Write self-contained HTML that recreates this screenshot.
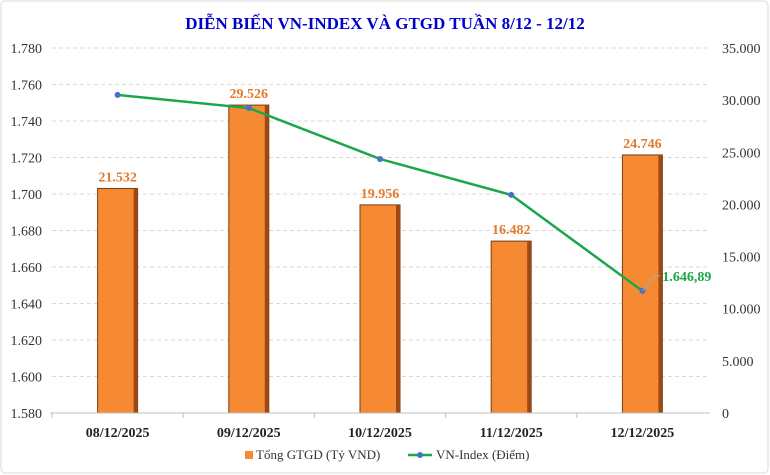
<!DOCTYPE html>
<html><head><meta charset="utf-8"><style>
body{margin:0;background:#fff;}
svg{display:block;font-family:"Liberation Serif",serif;}
</style></head><body>
<svg id="c" width="770" height="475">
<rect x="1" y="1" width="767" height="472" rx="4" fill="#fff" stroke="#d9d9d9"/>
<text x="385" y="29" text-anchor="middle" font-size="17" font-weight="bold" fill="#0000cc">DIỄN BIẾN VN-INDEX VÀ GTGD TUẦN 8/12 - 12/12</text>
<g id="grid"></g><g id="bars"></g><g id="line"></g><g id="axes"></g>
<g>
<rect x="245" y="451" width="8" height="8" fill="#f58a33"/>
<text x="256" y="459" font-size="13" fill="#333">Tổng GTGD (Tỷ VND)</text>
<line x1="408" y1="455" x2="432" y2="455" stroke="#1aa64a" stroke-width="2.5"/>
<circle cx="420" cy="455" r="3" fill="#4472c4"/>
<text x="436" y="459" font-size="13" fill="#333">VN-Index (Điểm)</text>
</g>
</svg>
<script>
const categories=["08/12/2025","09/12/2025","10/12/2025","11/12/2025","12/12/2025"];
const gtgd=[21532,29526,19956,16482,24746];
const gtgdLabels=["21.532","29.526","19.956","16.482","24.746"];
const vnindex=[1754.3,1747.1,1719.2,1699.5,1646.89];
const leftTicks=[1580,1600,1620,1640,1660,1680,1700,1720,1740,1760,1780];
const rightTicks=[0,5000,10000,15000,20000,25000,30000,35000];
const L=52,R=708,T=48,B=413;
const NS="http://www.w3.org/2000/svg";
const yL=v=>B-(v-1580)/200*(B-T);
const yR=v=>B-v/35000*(B-T);
const bw=(R-L)/categories.length;
const xC=i=>L+bw*(i+0.5);
function mk(tag,attrs,parent,txt){const e=document.createElementNS(NS,tag);for(const k in attrs)e.setAttribute(k,attrs[k]);if(txt!==undefined)e.textContent=txt;document.getElementById(parent).appendChild(e);return e;}
const fmtL=v=>"1."+String(v-1000).padStart(3,"0");
const fmtR=v=>v===0?"0":(Math.floor(v/1000)+".000");
leftTicks.forEach(v=>{
 const g=mk("line",{x1:L,x2:R,y1:yL(v),y2:yL(v),stroke:"#d9d9d9","stroke-dasharray":"4,3"},"grid");
 
 
 const t=mk("text",{x:42,y:yL(v)+5,"text-anchor":"end","font-size":"14",fill:"#333"},"axes",fmtL(v));
 
 
});
rightTicks.forEach(v=>{
 const t=mk("text",{x:722,y:yR(v)+5,"font-size":"14",fill:"#333"},"axes",fmtR(v));
 
 
});
const ax=mk("line",{x1:L-2,x2:R+2,y1:B,y2:B,stroke:"#bfbfbf"},"axes");


categories.forEach((c,i)=>{
 const tk=mk("line",{x1:L+bw*i,x2:L+bw*i,y1:B,y2:B+5,stroke:"#bfbfbf"},"axes");
 
 
 const t=mk("text",{x:xC(i),y:437,"text-anchor":"middle","font-size":"14","font-weight":"bold",fill:"#222"},"axes",c);
 
 
 const x0=xC(i)-20,y0=yR(gtgd[i]);
 const b=mk("rect",{x:x0,y:y0,width:40,height:B-y0,fill:"#f58a33",stroke:"#7a3b10","stroke-width":"1"},"bars");
 
 
 const s=mk("rect",{x:x0+36,y:y0,width:4,height:B-y0,fill:"#9c4a15"},"bars");
 
 
 const lb=mk("text",{x:xC(i),y:y0-7,"text-anchor":"middle","font-size":"14","font-weight":"bold",fill:"#e07b2e"},"bars",gtgdLabels[i]);
 
 
});
const pl=mk("polyline",{points:vnindex.map((v,i)=>xC(i)+","+yL(v)).join(" "),fill:"none",stroke:"#1aa64a","stroke-width":"2.5"},"line");


vnindex.forEach((v,i)=>{
 const c=mk("circle",{cx:xC(i),cy:yL(v),r:3,fill:"#4472c4"},"line");
 
 
});
const n=vnindex.length-1,lx=xC(n),ly=yL(vnindex[n]);
const ll=mk("polyline",{points:`${lx},${ly} ${lx+12},${ly-15} ${lx+18},${ly-15}`,fill:"none",stroke:"#aaa"},"line");


const vl=mk("text",{x:lx+20,y:ly-10,"font-size":"14","font-weight":"bold",fill:"#1aa64a"},"line","1.646,89");


</script>
</body></html>
